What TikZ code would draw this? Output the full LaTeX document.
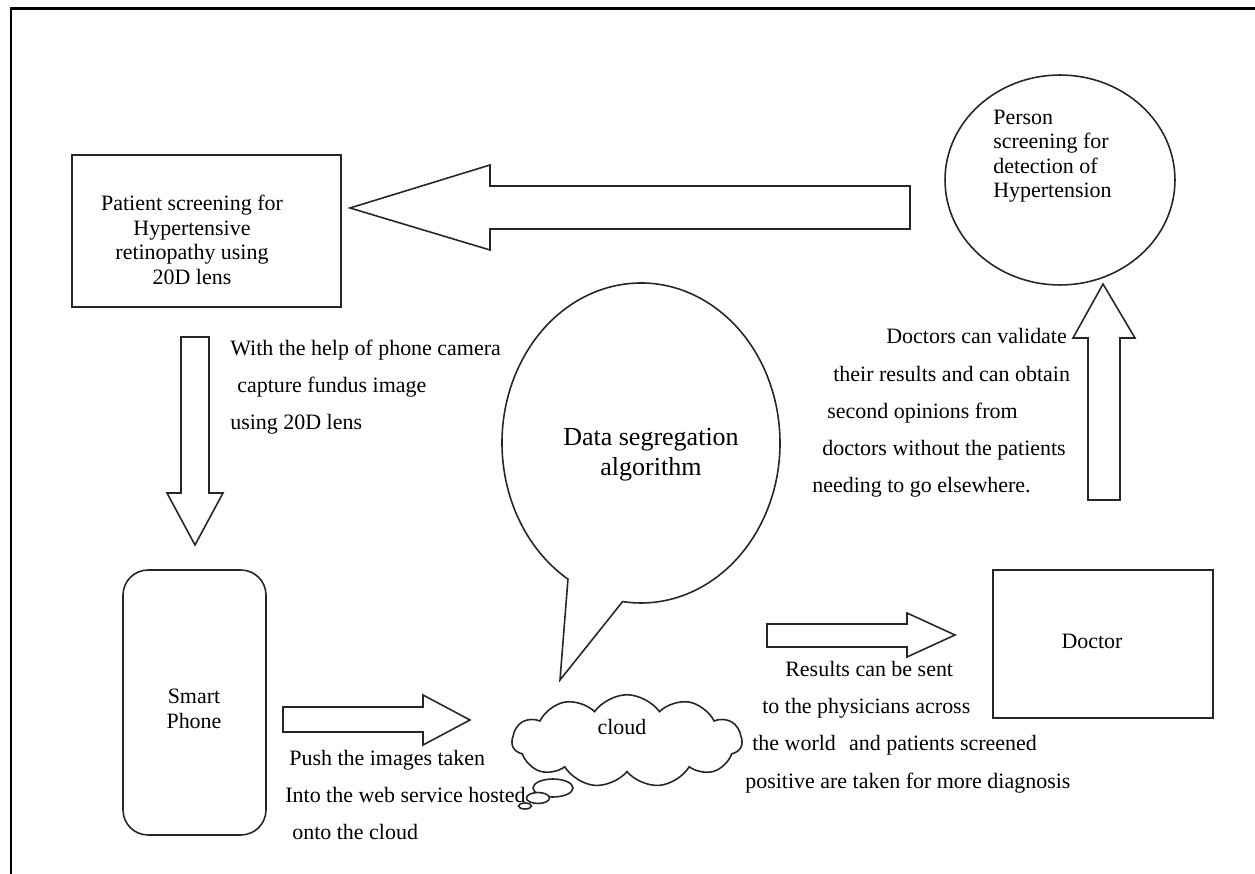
\documentclass[tikz,border=0pt]{standalone}
\usepackage{fontspec}
\setmainfont{Liberation Serif}
\usetikzlibrary{shapes,shapes.symbols,positioning}

\begin{document}
\begin{tikzpicture}[x=0.02cm,y=0.02cm,
  outline/.style={draw=black!85,line width=0.9pt,fill=white},
  body/.style={font=\fontsize{12.5}{13.9}\selectfont,inner sep=0pt,align=center},
  note/.style={font=\fontsize{12.5}{21.2}\selectfont,inner sep=0pt,align=left,anchor=west}]
\useasboundingbox (0,0) rectangle (1255,-874);
\draw [line width=1.7pt] (1255,-9) -- (11,-9) -- (11,-874);
%%%%%%%%%%%%%%%%
\node[outline,minimum width=5.38cm,minimum height=3.04cm] (patientbox) at (206.5,-231) {};
\node[body] (patienttext) at (192,-240) {Patient screening for\\Hypertensive\\retinopathy using\\20D lens};
%%%%%%%%%%%%%%%%
\node[outline,ellipse,minimum width=4.6cm,minimum height=4.2cm] (personcircle) at (1060,-180) {};
\node[body,align=left,anchor=west] (persontext) at (993,-156) {Person\\screening for\\detection of\\Hypertension};
%%%%%%%%%%%%%%%%
\draw [outline] (910,-186) -- (490,-186) -- (490,-165) -- (350,-208) -- (490,-250) -- (490,-229) -- (910,-229) -- cycle;
\draw [outline] (181,-337) -- (209,-337) -- (209,-493) -- (223,-493) -- (195,-545) -- (167,-493) -- (181,-493) -- cycle;
\draw [outline] (283,-707) -- (423,-707) -- (423,-695) -- (470,-720) -- (423,-745) -- (423,-732) -- (283,-732) -- cycle;
\draw [outline] (767,-624) -- (907,-624) -- (907,-613) -- (955,-635) -- (907,-657) -- (907,-647) -- (767,-647) -- cycle;
\draw [outline] (1088,-500) -- (1088,-338) -- (1073,-338) -- (1103,-284) -- (1135,-338) -- (1120,-338) -- (1120,-500) -- cycle;
%%%%%%%%%%%%%%%%
\node[note] (cameratext) at (230,-387) {With the help of phone camera\\\hspace*{0.14cm}capture fundus image\\using 20D lens};
%%%%%%%%%%%%%%%%
\node[outline,rounded corners=0.5cm,minimum width=2.86cm,minimum height=5.3cm] (phonebox) at (194.5,-702.5) {};
\node[body] (phonetext) at (194,-709) {Smart\\Phone};
\node[note] (pushtext) at (285,-795) {\hspace*{0.08cm}Push the images taken\\Into the web service hosted\\\hspace*{0.14cm}onto the cloud};
%%%%%%%%%%%%%%%%
\coordinate (bubblecentre) at (641,-443);
\coordinate (bubbletip) at (560,-680);
\draw [outline] (bubblecentre) ++(238.3:139 and 160) arc[start angle=238.3,end angle=-97.6,x radius=139,y radius=160] -- (bubbletip) -- cycle;
\node[font=\fontsize{14.8}{17}\selectfont,align=center] (algotext) at (651,-455) {Data segregation\\algorithm};
%%%%%%%%%%%%%%%%
\node[outline,cloud,cloud puffs=11,cloud puff arc=110,aspect=2.5,minimum width=4.6cm,minimum height=1.85cm] (cloud) at (627,-741) {};
\node[outline,ellipse,inner sep=0pt,minimum width=0.8cm,minimum height=0.36cm] (puffA) at (553,-788) {};
\node[outline,ellipse,inner sep=0pt,minimum width=0.46cm,minimum height=0.22cm] (puffB) at (538,-798) {};
\node[outline,ellipse,inner sep=0pt,minimum width=0.26cm,minimum height=0.12cm] (puffC) at (525,-806) {};
\node[body] (cloudtext) at (622,-727) {cloud};
%%%%%%%%%%%%%%%%
\node[note] (resulttext) at (745,-727) {\hspace*{0.8cm}Results can be sent\\\hspace*{0.34cm}to the physicians across\\\hspace*{0.14cm}the world\hspace{0.6em}and patients screened\\positive are taken for more diagnosis};
\node[outline,minimum width=4.4cm,minimum height=2.96cm] (doctorbox) at (1103,-644) {};
\node[body] (doctortext) at (1092,-641) {Doctor};
%%%%%%%%%%%%%%%%
\node[note] (validtext) at (812,-413) {\hspace*{1.48cm}Doctors can validate\\\hspace*{0.42cm}their results and can obtain\\\hspace*{0.30cm}second opinions from\\\hspace*{0.20cm}doctors without the patients\\needing to go elsewhere.};
\end{tikzpicture}
\end{document}
